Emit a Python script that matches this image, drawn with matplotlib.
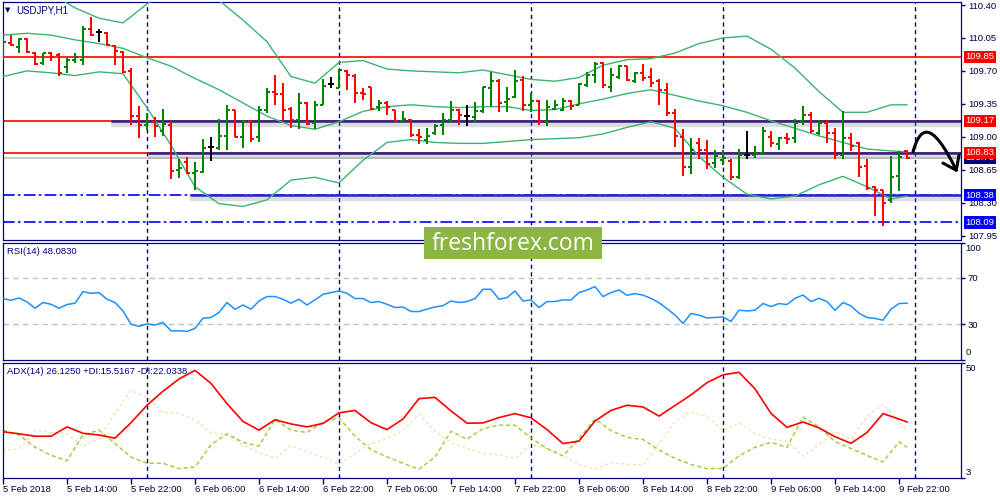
import matplotlib
matplotlib.use("Agg")
import matplotlib.pyplot as plt
import matplotlib.transforms as mtransforms
from matplotlib.collections import LineCollection
from matplotlib.patches import FancyArrowPatch, Rectangle
from matplotlib.path import Path
import numpy as np
import pandas as pd

plt.rcParams['font.family'] = ['Liberation Sans', 'DejaVu Sans']

# ---- data (USDJPY H1, 5-9 Feb 2018) ----
symbol = "USDJPY,H1"
first_bar = "2018-02-05 06:00"

opens = [109.89, 110.00, 109.95, 110.04, 109.89, 109.78, 109.89, 109.87, 109.74, 109.82,
         109.82, 110.15, 110.11, 110.10, 109.96, 109.90, 109.70, 109.22, 109.13, 109.16,
         109.06, 109.13, 108.65, 108.73, 108.62, 108.63, 108.89, 108.88, 109.01, 109.28,
         109.00, 109.17, 109.00, 109.29, 109.48, 109.45, 109.30, 109.18, 109.36, 109.15,
         109.34, 109.56, 109.52, 109.70, 109.65, 109.46, 109.53, 109.32, 109.36, 109.28,
         109.17, 109.18, 109.02, 108.97, 109.04, 109.13, 109.18, 109.28, 109.22, 109.21,
         109.27, 109.52, 109.59, 109.37, 109.42, 109.60, 109.34, 109.38, 109.16, 109.30,
         109.29, 109.38, 109.34, 109.55, 109.66, 109.78, 109.53, 109.64, 109.75, 109.59,
         109.68, 109.64, 109.59, 109.50, 109.25, 109.00, 108.68, 108.93, 108.86, 108.72,
         108.75, 108.74, 108.57, 108.81, 108.81, 108.83, 109.00, 108.92, 108.99, 108.99,
         109.17, 109.23, 109.04, 109.15, 109.04, 108.81, 108.99, 108.93, 108.69, 108.47,
         108.43, 108.33, 108.58, 108.85]
highs = [110.06, 110.08, 110.05, 110.05, 109.90, 109.89, 109.90, 109.89, 109.84, 109.89,
         110.18, 110.27, 110.14, 110.11, 109.98, 109.91, 109.73, 109.33, 109.25, 109.21,
         109.30, 109.17, 108.76, 108.79, 108.73, 108.98, 109.00, 109.19, 109.34, 109.29,
         109.18, 109.18, 109.33, 109.52, 109.66, 109.57, 109.32, 109.47, 109.37, 109.38,
         109.61, 109.63, 109.72, 109.71, 109.67, 109.52, 109.53, 109.39, 109.38, 109.29,
         109.27, 109.19, 109.08, 109.09, 109.14, 109.25, 109.38, 109.30, 109.34, 109.37,
         109.53, 109.69, 109.61, 109.53, 109.71, 109.65, 109.47, 109.39, 109.39, 109.39,
         109.41, 109.39, 109.57, 109.69, 109.79, 109.79, 109.73, 109.76, 109.75, 109.69,
         109.77, 109.73, 109.61, 109.57, 109.30, 109.08, 108.99, 108.99, 108.97, 108.86,
         108.86, 108.76, 108.87, 109.06, 108.90, 109.10, 109.06, 109.00, 109.04, 109.19,
         109.33, 109.26, 109.18, 109.18, 109.09, 109.27, 109.04, 108.94, 108.76, 108.48,
         108.43, 108.80, 108.85, 108.86]
lows = [109.82, 109.96, 109.89, 109.89, 109.76, 109.76, 109.80, 109.65, 109.68, 109.78,
        109.76, 110.07, 110.01, 109.97, 109.76, 109.68, 109.13, 108.99, 109.07, 109.00,
        109.01, 108.55, 108.56, 108.60, 108.44, 108.62, 108.74, 108.86, 108.86, 109.00,
        108.88, 108.95, 108.95, 109.25, 109.34, 109.18, 109.09, 109.08, 109.13, 109.08,
        109.34, 109.52, 109.52, 109.50, 109.36, 109.39, 109.29, 109.27, 109.23, 109.16,
        109.15, 109.00, 108.92, 108.92, 109.02, 109.02, 109.16, 109.13, 109.12, 109.16,
        109.25, 109.32, 109.26, 109.26, 109.41, 109.27, 109.26, 109.13, 109.12, 109.28,
        109.27, 109.29, 109.34, 109.53, 109.57, 109.52, 109.48, 109.61, 109.59, 109.57,
        109.59, 109.53, 109.34, 109.22, 108.89, 108.58, 108.60, 108.76, 108.66, 108.67,
        108.70, 108.54, 108.55, 108.76, 108.78, 108.81, 108.89, 108.86, 108.92, 108.93,
        109.13, 109.04, 109.02, 108.93, 108.76, 108.76, 108.85, 108.57, 108.44, 108.16,
        108.05, 108.30, 108.42, 108.76]
closes = [110.01, 109.97, 110.04, 109.90, 109.77, 109.89, 109.85, 109.68, 109.82, 109.85,
          110.14, 110.08, 110.11, 109.98, 109.91, 109.69, 109.22, 109.13, 109.16, 109.12,
          109.14, 108.64, 108.67, 108.62, 108.64, 108.88, 108.89, 109.01, 109.28, 109.00,
          109.17, 108.98, 109.29, 109.48, 109.45, 109.29, 109.18, 109.36, 109.14, 109.34,
          109.54, 109.56, 109.71, 109.66, 109.46, 109.45, 109.30, 109.36, 109.32, 109.17,
          109.19, 109.02, 109.00, 109.01, 109.12, 109.18, 109.29, 109.23, 109.22, 109.27,
          109.53, 109.59, 109.36, 109.40, 109.59, 109.34, 109.38, 109.16, 109.32, 109.34,
          109.38, 109.33, 109.56, 109.66, 109.77, 109.55, 109.66, 109.75, 109.60, 109.68,
          109.62, 109.57, 109.50, 109.25, 109.01, 108.68, 108.86, 108.86, 108.71, 108.80,
          108.77, 108.57, 108.81, 108.81, 108.83, 109.06, 108.93, 108.99, 108.98, 109.15,
          109.23, 109.06, 109.15, 109.04, 108.81, 108.99, 108.90, 108.68, 108.46, 108.44,
          108.30, 108.57, 108.79, 108.78]

# Bollinger bands, read every third bar
bb_bars = list(range(0, 112, 3)) + [113]
bb_upper = [110.61, 110.58, 110.52, 110.37, 110.26, 110.21, 110.41, 110.61, 110.72, 110.45,
            110.24, 110.01, 109.64, 109.57, 109.79, 109.81, 109.72, 109.70, 109.69, 109.68,
            109.71, 109.66, 109.61, 109.59, 109.63, 109.76, 109.82, 109.83, 109.89, 109.99,
            110.05, 110.07, 109.93, 109.73, 109.48, 109.26, 109.26, 109.34, 109.34]
bb_middle = [110.08, 110.10, 110.08, 110.03, 109.99, 109.94, 109.84, 109.75, 109.62, 109.50,
             109.36, 109.22, 109.12, 109.08, 109.16, 109.27, 109.32, 109.34, 109.32, 109.31,
             109.32, 109.32, 109.28, 109.29, 109.35, 109.40, 109.46, 109.50, 109.44, 109.38,
             109.33, 109.26, 109.17, 109.09, 109.01, 108.94, 108.87, 108.85, 108.84]
bb_lower = [109.64, 109.70, 109.68, 109.65, 109.69, 109.67, 109.31, 108.91, 108.47, 108.29,
            108.26, 108.33, 108.54, 108.57, 108.51, 108.75, 108.94, 108.97, 108.94, 108.93,
            108.93, 108.95, 108.97, 108.98, 108.99, 109.03, 109.10, 109.16, 109.09, 108.79,
            108.57, 108.39, 108.34, 108.37, 108.49, 108.58, 108.47, 108.34, 108.37]

rsi = [52.1, 50.6, 52.6, 49.2, 43.8, 48.7, 47.2, 43.8, 47.0, 48.1,
       58.0, 56.6, 57.2, 51.5, 48.7, 41.5, 30.2, 28.3, 30.5, 29.4,
       31.7, 24.5, 24.5, 24.0, 26.6, 35.3, 35.9, 40.2, 48.7, 43.0,
       46.6, 43.0, 50.0, 53.8, 53.8, 51.5, 48.1, 51.5, 46.6, 50.9,
       55.7, 57.2, 58.6, 56.6, 52.1, 52.1, 48.7, 49.5, 47.2, 44.4,
       44.9, 41.0, 41.0, 43.0, 44.9, 46.0, 50.0, 48.7, 49.5, 52.0,
       60.0, 60.0, 51.5, 52.9, 58.6, 50.0, 50.9, 44.4, 49.5, 49.5,
       50.9, 50.9, 57.2, 59.4, 62.3, 53.8, 57.2, 59.4, 54.9, 56.3,
       55.0, 52.3, 48.5, 43.5, 38.0, 30.8, 39.3, 37.9, 35.5, 35.9,
       36.4, 32.5, 42.1, 41.5, 42.1, 47.8, 45.3, 47.8, 47.0, 52.3,
       55.1, 49.5, 52.3, 49.5, 42.1, 48.7, 45.8, 39.6, 35.9, 35.1,
       33.6, 43.0, 47.8, 48.1]

# ADX(14) with +DI / -DI, read every second bar
dmi_bars = list(range(0, 113, 2)) + [113]
adx = [21.8, 21.0, 20.0, 20.0, 23.8, 21.2, 20.5, 19.2, 25.5, 32.6,
       38.3, 43.3, 46.8, 41.5, 33.3, 26.0, 22.5, 26.7, 25.0, 23.8,
       25.2, 29.5, 30.5, 25.5, 22.7, 27.0, 35.3, 35.8, 30.3, 25.3,
       25.4, 27.6, 29.2, 27.5, 22.7, 17.0, 18.0, 26.2, 30.5, 32.6,
       31.9, 28.2, 32.5, 36.8, 41.8, 45.0, 46.0, 39.3, 29.3, 23.6,
       25.8, 23.4, 19.8, 17.1, 21.5, 29.2, 27.0, 25.8]
plus_di = [22.4, 20.5, 15.5, 12.3, 10.0, 20.5, 22.5, 17.0, 11.5, 9.0,
           9.0, 6.8, 7.5, 16.5, 21.0, 17.5, 16.0, 26.8, 22.5, 21.5,
           25.8, 27.5, 20.0, 14.5, 11.6, 9.0, 6.6, 11.5, 22.0, 18.8,
           23.1, 24.5, 24.5, 19.3, 15.0, 12.0, 19.0, 27.0, 22.3, 19.5,
           18.7, 14.4, 11.0, 8.5, 6.8, 6.9, 12.0, 15.5, 17.5, 15.5,
           27.8, 23.8, 17.8, 15.0, 12.2, 9.5, 17.7, 15.5]
minus_di = [14.3, 14.8, 22.5, 21.5, 21.0, 15.7, 19.0, 29.5, 38.5, 36.0,
            29.5, 29.5, 26.5, 21.5, 20.4, 16.5, 13.2, 11.0, 16.2, 13.5,
            11.5, 8.5, 13.0, 17.1, 19.0, 22.4, 29.0, 22.0, 17.5, 15.0,
            13.0, 12.5, 11.0, 16.5, 15.0, 12.0, 8.5, 6.5, 9.2, 8.6,
            8.3, 17.0, 26.0, 30.0, 28.0, 22.4, 25.5, 21.0, 18.8, 18.0,
            11.9, 16.5, 22.0, 18.8, 28.1, 33.0, 26.0, 22.0]

price_ticks = [110.40, 110.05, 109.70, 109.35, 109.00, 108.65, 108.30, 107.95]
red_levels = [109.85, 109.17, 108.83]
blue_levels = [108.38, 108.09]
channel_levels = [109.17, 108.83, 108.38]
channel_start = [13.5, 18.1, 23.4]
bid = 108.78
price_boxes = [(108.78, '#000080'), (109.85, '#FF0000'), (109.17, '#FF0000'),
               (108.83, '#FF0000'), (108.38, '#0000FF'), (108.09, '#0000FF')]

NAVY = '#000080'
GREEN = '#008000'
RED = '#FF0000'
FS = 6.8

times = pd.date_range(first_bar, periods=len(opens) + 18, freq='h')
day_breaks = [i for i, t in enumerate(times) if t.hour == 0]
label_bars = list(range(0, len(opens), 8))
time_labels = [times[i].strftime('%-d %b %Y') if i == 0 else
               times[i].strftime('%-d %b %H:%M') for i in label_bars]

fig = plt.figure(figsize=(10, 5), dpi=100)
L, W = 0.0025, 0.9585
ax_p = fig.add_axes([L, 0.521, W, 0.475])
ax_r = fig.add_axes([L, 0.281, W, 0.234])
ax_a = fig.add_axes([L, 0.044, W, 0.231])

for ax in (ax_p, ax_r, ax_a):
    ax.set_xlim(-0.06, 119.75)
    for s in ax.spines.values():
        s.set_color(NAVY)
        s.set_linewidth(0.9)
    ax.yaxis.tick_right()
    ax.tick_params(axis='y', length=3, width=1, color=NAVY, labelsize=FS,
                   labelcolor='#000040', pad=2)
    for b in day_breaks:
        ax.axvline(b, color=NAVY, lw=1.0, ls=(0, (3, 2.5)), zorder=1)
ax_p.set_xticks([])
ax_r.set_xticks([])

# ---- price panel ----
ax_p.set_ylim(107.909, 110.432)
ax_p.set_yticks(price_ticks)
ax_p.set_yticklabels([f"{p:.2f}" for p in price_ticks])

for lvl in red_levels:
    ax_p.axhline(lvl, color=RED, lw=1.2, zorder=2)
for lvl in blue_levels:
    ax_p.axhline(lvl, color='#0000FF', lw=1.2, ls=(0, (7, 2, 1.5, 2)), zorder=2)
ax_p.axhline(bid, color='#C8C8C8', lw=1.3, zorder=1.5)
for lvl, x0 in zip(channel_levels, channel_start):
    col = '#2626C8' if lvl < 108.5 else '#2A2090'
    ax_p.plot([x0, 119.75], [lvl - 0.03, lvl - 0.03], color='#909090', lw=4.5,
              alpha=0.3, solid_capstyle='butt', zorder=2.2)
    ax_p.plot([x0, 119.75], [lvl, lvl], color=col, lw=1.8,
              solid_capstyle='butt', zorder=2.5)

ax_p.plot(bb_bars, bb_upper, color='#3CB371', lw=1.0, zorder=3)
ax_p.plot(bb_bars, bb_middle, color='#3CB371', lw=1.0, zorder=3)
ax_p.plot(bb_bars, bb_lower, color='#3CB371', lw=1.0, zorder=3)

o, h, l, c = map(np.array, (opens, highs, lows, closes))
bar_cols = [GREEN if cc > oo else (RED if cc < oo else 'black') for oo, cc in zip(o, c)]
vsegs, tsegs, tcols = [], [], []
for i in range(len(o)):
    vsegs.append([(i, l[i]), (i, h[i])])
    tsegs.append([(i - 0.4, o[i]), (i, o[i])])
    tsegs.append([(i, c[i]), (i + 0.4, c[i])])
    tcols += [bar_cols[i], bar_cols[i]]
ax_p.add_collection(LineCollection(vsegs, colors=bar_cols, linewidths=1.4, zorder=4))
ax_p.add_collection(LineCollection(tsegs, colors=tcols, linewidths=1.4, zorder=4))

ytr = mtransforms.blended_transform_factory(ax_p.transAxes, ax_p.transData)
for lvl, col in price_boxes:
    ax_p.text(1.0045, lvl, f"{lvl:.2f}", transform=ytr, ha='left', va='center',
              fontsize=FS, color='white', zorder=6,
              bbox=dict(boxstyle='square,pad=0.18', fc=col, ec='none'))

ax_p.text(0.003, 0.966, '\u25bc', transform=ax_p.transAxes, fontsize=5,
          color=NAVY, va='center', family='DejaVu Sans')
ax_p.text(0.014, 0.966, symbol, transform=ax_p.transAxes, fontsize=7,
          color=NAVY, va='center')

arrow_path = Path([(113.75, 108.84), (114.6, 109.1), (116.0, 109.2), (119.3, 108.62)],
                  [Path.MOVETO, Path.CURVE4, Path.CURVE4, Path.CURVE4])
ax_p.add_patch(FancyArrowPatch(path=arrow_path, arrowstyle='->,head_length=0.55,head_width=0.4',
                               mutation_scale=16, lw=2.2, color='black', clip_on=False,
                               zorder=7))

# ---- RSI panel ----
ax_r.set_ylim(0, 100)
ax_r.set_yticks([0, 30, 70, 100])
ax_r.set_yticklabels(['', '30', '70', ''])
rtr = mtransforms.blended_transform_factory(ax_r.transAxes, ax_r.transData)
ax_r.text(1.0045, 99, '100', transform=rtr, va='top', fontsize=FS, color='#000040')
ax_r.text(1.0045, 2, '0', transform=rtr, va='bottom', fontsize=FS, color='#000040')
for lvl in (30, 70):
    ax_r.axhline(lvl, color='#C0C0C0', lw=1.0, ls=(0, (4, 3)), zorder=1)
ax_r.plot(range(len(rsi)), rsi, color='#1E90FF', lw=1.1, zorder=3)
ax_r.text(0.005, 0.92, f"RSI(14) {48.0830:.4f}", transform=ax_r.transAxes,
          fontsize=FS, color=NAVY, va='center')

# ---- ADX panel ----
ax_a.set_ylim(3, 50)
ax_a.set_yticks([3, 50])
ax_a.set_yticklabels(['', ''])
atr = mtransforms.blended_transform_factory(ax_a.transAxes, ax_a.transData)
ax_a.text(1.0045, 49.5, '50', transform=atr, va='top', fontsize=FS, color='#000040')
ax_a.text(1.0045, 3.6, '3', transform=atr, va='bottom', fontsize=FS, color='#000040')
ax_a.plot(dmi_bars, minus_di, color='#F5DEB3', lw=1.0, ls=(0, (2, 2)), zorder=2)
ax_a.plot(dmi_bars, plus_di, color='#9ACD32', lw=1.0, ls=(0, (3, 2)), zorder=2)
ax_a.plot(dmi_bars, adx, color=RED, lw=1.2, zorder=3)
ax_a.text(0.005, 0.92, "ADX(14) 26.1250 +DI:15.5167 -DI:22.0338",
          transform=ax_a.transAxes, fontsize=FS, color=NAVY, va='center')
ax_a.set_xticks(label_bars)
ax_a.set_xticklabels(time_labels, ha='left', fontsize=FS, color='#000040')
ax_a.tick_params(axis='x', length=4, width=1, color=NAVY, pad=1)

# watermark
fig.add_artist(Rectangle((0.424, 1 - 259 / 500), 0.178, 32 / 500, transform=fig.transFigure,
                         fc='#8DB542', ec='none', zorder=10))
fig.text(0.513, 1 - 244 / 500, 'freshforex.com', color='white', fontsize=16.5,
         family='Open Sans', ha='center', va='center', zorder=11)

fig.savefig('out.png', dpi=100, facecolor='white')
